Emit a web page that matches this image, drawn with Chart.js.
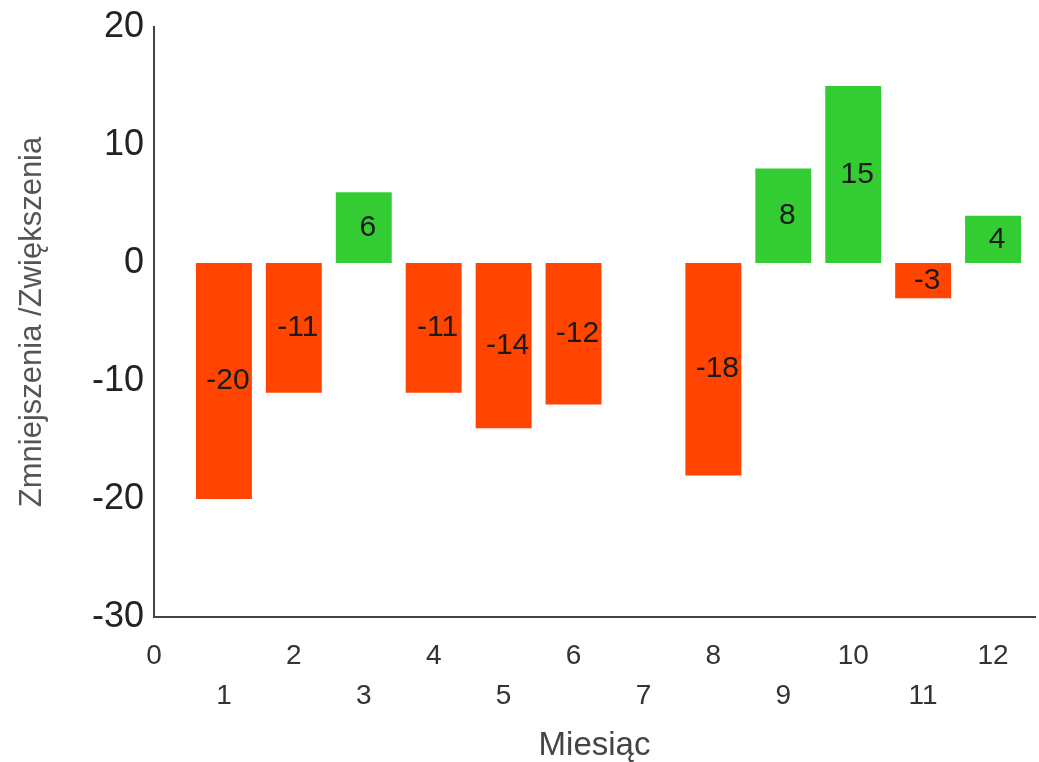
<!DOCTYPE html>
<html>
<head>
<meta charset="utf-8">
<script src="https://cdn.jsdelivr.net/npm/chart.js@4.4.1/dist/chart.umd.min.js"></script>
<style>
  html, body { margin: 0; padding: 0; background: #fff; }
  #wrap { width: 1039px; height: 762px; }
</style>
</head>
<body>
<div id="wrap"><canvas id="myChart" width="1039" height="762"></canvas></div>
<script>
const miesiace = [1, 2, 3, 4, 5, 6, 7, 8, 9, 10, 11, 12];
const zmiany = [-20, -11, 6, -11, -14, -12, null, -18, 8, 15, -3, 4];
const yTicks = [-30, -10, -20, 0, 10, 20];

const czerwony = "#ff4500";
const zielony = "#33cc33";
const czcionka = "'Liberation Sans', Arial, sans-serif";

// etykiety wartosci na srodku slupkow
const etykiety = {
  id: "etykiety",
  afterDatasetsDraw(chart) {
    const ctx = chart.ctx;
    const meta = chart.getDatasetMeta(0);
    ctx.save();
    ctx.font = "30px " + czcionka;
    ctx.fillStyle = "#1a1a1a";
    ctx.textAlign = "center";
    ctx.textBaseline = "middle";
    meta.data.forEach((bar, i) => {
      const v = zmiany[i];
      if (v === null) return;
      const p = bar.getProps(["x", "y", "base"], true);
      ctx.fillText(String(v), p.x + 4, (p.y + p.base) / 2);
    });
    ctx.restore();
  },
};

const ctx = document.querySelector("#myChart").getContext("2d");
new Chart(ctx, {
  type: "bar",
  data: {
    datasets: [
      {
        data: miesiace.map((m, i) => ({ x: m, y: zmiany[i] })),
        backgroundColor: zmiany.map((v) => (v < 0 ? czerwony : zielony)),
        borderWidth: 0,
        barPercentage: 1,
        categoryPercentage: 0.8,
      },
    ],
  },
  options: {
    responsive: false,
    animation: false,
    layout: { padding: { top: 20, right: 4, bottom: 0, left: 14 } },
    plugins: {
      legend: { display: false },
      tooltip: { enabled: false },
    },
    scales: {
      x: {
        type: "linear",
        offset: false,
        min: 0,
        max: 12.6,
        grid: { display: false, drawTicks: false },
        border: { display: true, color: "#444", width: 2 },
        afterFit: (scale) => {
          scale.height = 145;
        },
        ticks: {
          stepSize: 1,
          includeBounds: false,
          maxRotation: 0,
          autoSkip: false,
          padding: 20,
          color: "#333",
          font: { family: czcionka, size: 28, lineHeight: 1.4 },
          callback: (v) => (v % 2 === 0 ? [String(v), ""] : ["", String(v)]),
        },
        title: {
          display: true,
          text: "Miesiąc",
          color: "#444",
          font: { family: czcionka, size: 33, lineHeight: 1.0 },
          padding: { top: 0, bottom: 0 },
        },
      },
      y: {
        min: Math.min(...yTicks),
        max: Math.max(...yTicks),
        grid: { display: false, drawTicks: false },
        border: { display: true, color: "#444", width: 2 },
        afterFit: (scale) => {
          scale.width = 140;
        },
        ticks: {
          stepSize: 10,
          padding: 10,
          color: "#222",
          font: { family: czcionka, size: 36, lineHeight: 0.94 },
        },
        title: {
          display: true,
          text: "Zmniejszenia /Zwiększenia",
          color: "#555",
          font: { family: czcionka, size: 31 },
          padding: { top: 0, bottom: 0 },
        },
      },
    },
  },
  plugins: [etykiety],
});
</script>
</body>
</html>
